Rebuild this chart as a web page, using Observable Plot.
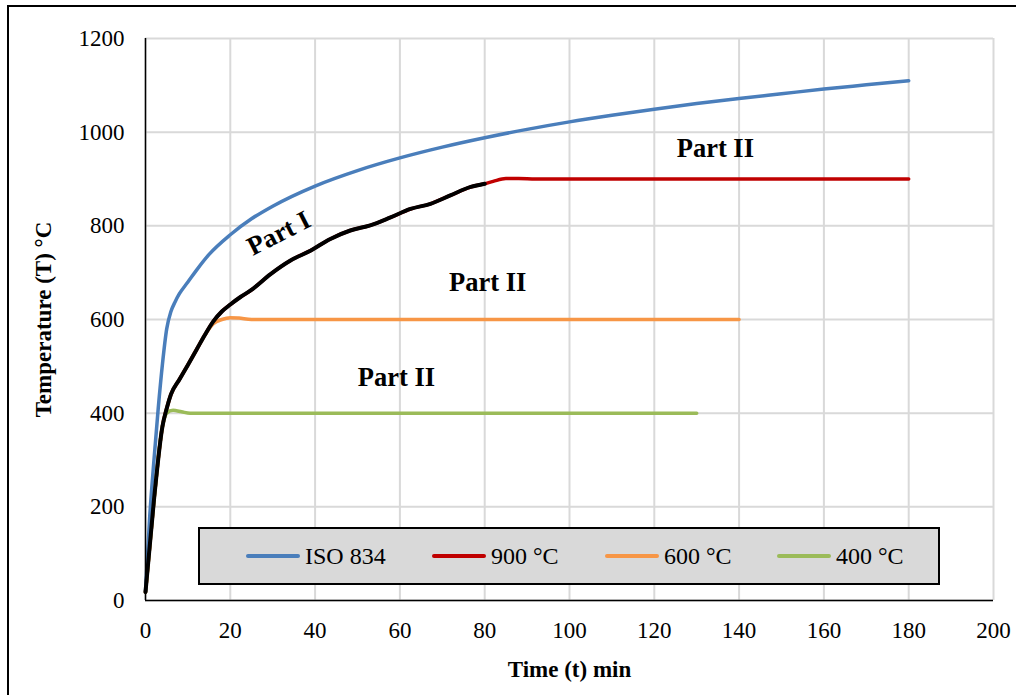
<!DOCTYPE html>
<html>
<head>
<meta charset="utf-8">
<script src="https://cdn.jsdelivr.net/npm/d3@7"></script>
<script src="https://cdn.jsdelivr.net/npm/@observablehq/plot@0.6"></script>
<style>
  html, body { margin: 0; padding: 0; background: #fff; overflow: hidden; width: 1016px; height: 695px; }
  #wrap { position: relative; width: 1016px; height: 695px; font-family: "Liberation Serif", "Times New Roman", serif; }
  #frame { position: absolute; left: 7px; top: 5px; width: 2000px; height: 2000px; border: 2px solid #000; box-sizing: border-box; }
  #chart { position: absolute; left: 0; top: 0; }
  #chart svg text { font-family: "Liberation Serif", "Times New Roman", serif !important; font-variant: normal !important; }
  #legend { position: absolute; left: 198px; top: 527px; width: 742px; height: 58px; box-sizing: border-box;
            border: 2px solid #000; background: #d9d9d9; }
  .li { position: absolute; top: 0; height: 54px; display: flex; align-items: center; font-size: 24px; color: #000;
        font-family: "Liberation Serif", "Times New Roman", serif; white-space: nowrap; }
  .sw { display: inline-block; width: 54px; height: 4px; border-radius: 2px; margin-right: 5px; }
</style>
</head>
<body>
<div id="wrap">
  <div id="frame"></div>
  <div id="chart"></div>
  <div id="legend"></div>
</div>
<script>
// ---- data ----
const xTicks = [0, 20, 40, 60, 80, 100, 120, 140, 160, 180, 200];
const yTicks = [0, 200, 400, 600, 800, 1000, 1200];

// ISO 834 standard fire curve
const isoTime = [0, 1, 2, 3, 4, 5, 6, 7, 8, 10, 12, 15, 20, 25, 30, 40, 50, 60, 70, 80, 90, 100, 110, 120, 130, 140, 150, 160, 170, 180];
const isoTemp = [20, 180, 300, 410, 505, 580, 617, 638, 655, 680, 705, 739, 781, 815, 842, 885, 918, 945, 968, 988, 1006, 1022, 1036, 1049, 1061, 1072, 1082, 1092, 1101, 1110];

// Part I heating curve (black)
const heatTime = [0, 2, 4, 5, 6, 8, 10, 12, 14, 16, 18, 20, 22.4, 24.8, 29.5, 34.2, 38.9, 43.6, 48.3, 53, 57.8, 62.5, 67.2, 71.9, 76.7, 80];
const heatTemp = [18, 215, 372, 410, 440, 472, 503, 535, 567, 596, 617, 632, 648, 662, 697, 726, 747, 772, 790, 801, 818, 836, 847, 865, 883, 890];

// 900 °C series
const t900Time = [0, 2, 4, 5, 6, 8, 10, 12, 14, 16, 18, 20, 22.4, 24.8, 29.5, 34.2, 38.9, 43.6, 48.3, 53, 57.8, 62.5, 67.2, 71.9, 76.7, 80, 82, 85, 88, 92, 180];
const t900Temp = [18, 215, 372, 410, 440, 472, 503, 535, 567, 596, 617, 632, 648, 662, 697, 726, 747, 772, 790, 801, 818, 836, 847, 865, 883, 890, 895, 901, 901, 900, 900];

// 600 °C series
const t600Time = [0, 2, 4, 5, 6, 8, 10, 12, 14, 16, 18, 20, 22, 25, 140];
const t600Temp = [18, 215, 372, 410, 440, 472, 503, 535, 567, 591, 600, 604, 603, 600, 600];

// 400 °C series
const t400Time = [0, 2, 4, 5, 6.5, 8.5, 10.5, 130];
const t400Temp = [18, 215, 372, 400, 406, 403, 400, 400];

const seriesNames = ["ISO 834", "900 °C", "600 °C", "400 °C"];
const seriesColors = ["#4a7ebb", "#c00000", "#f79646", "#9bbb59"];

// annotations
const noteText = ["Part I", "Part II", "Part II", "Part II"];
const noteX = [31.4, 134.4, 80.7, 59.2];
const noteY = [784, 965, 679, 476];
const noteRotate = [-27, 0, 0, 0];

// ---- build tables ----
const toRows = (ts, vs) => ts.map((t, i) => ({t, v: vs[i]}));
const iso = toRows(isoTime, isoTemp);
const heat = toRows(heatTime, heatTemp);
const s900 = toRows(t900Time, t900Temp);
const s600 = toRows(t600Time, t600Temp);
const s400 = toRows(t400Time, t400Temp);
const notes = noteText.map((s, i) => ({s, x: noteX[i], y: noteY[i], r: noteRotate[i]}));

const lineOpts = (color, w) => ({x: "t", y: "v", stroke: color, strokeWidth: w, curve: "monotone-x", strokeLinecap: "round", strokeLinejoin: "round"});
const serif = "Liberation Serif, 'Times New Roman', serif";

const chart = Plot.plot({
  width: 1016,
  height: 695,
  marginLeft: 145,
  marginRight: 23,
  marginTop: 38,
  marginBottom: 95,
  style: {fontFamily: serif, fontSize: "23px", color: "#000", background: "transparent", overflow: "visible"},
  x: {domain: [0, 200]},
  y: {domain: [0, 1200]},
  marks: [
    Plot.gridX(xTicks, {stroke: "#d9d9d9", strokeOpacity: 1, strokeWidth: 2}),
    Plot.gridY(yTicks, {stroke: "#d9d9d9", strokeOpacity: 1, strokeWidth: 2}),
    Plot.line(s900, lineOpts(seriesColors[1], 3.5)),
    Plot.line(s600, lineOpts(seriesColors[2], 3.5)),
    Plot.line(s400, lineOpts(seriesColors[3], 3.5)),
    Plot.line(iso, lineOpts(seriesColors[0], 3.5)),
    Plot.line(heat, lineOpts("#000", 4)),
    Plot.ruleX([0], {stroke: "#000", strokeWidth: 1.5}),
    Plot.ruleY([0], {stroke: "#000", strokeWidth: 1.5}),
    Plot.axisX(xTicks, {tickSize: 0, tickPadding: 21, label: null, fontSize: 23, fontFamily: serif, tickFormat: d => String(d)}),
    Plot.axisY(yTicks, {tickSize: 0, tickPadding: 21, label: null, fontSize: 23, fontFamily: serif, tickFormat: d => String(d)}),
    Plot.text(["Temperature (T) °C"], {frameAnchor: "left", dx: -102, rotate: -90, textAnchor: "middle", lineAnchor: "middle", fontWeight: "bold", fontSize: 23, fontFamily: serif}),
    Plot.text(["Time (t) min"], {frameAnchor: "bottom", dy: 69, textAnchor: "middle", lineAnchor: "middle", fontWeight: "bold", fontSize: 23, fontFamily: serif}),
    Plot.text(notes, {x: "x", y: "y", text: "s", rotate: "r", fontWeight: "bold", fontSize: 26.5, fontFamily: serif})
  ]
});
document.getElementById("chart").appendChild(chart);

// legend
const legendLeft = [46, 232, 405, 577];
const legend = document.getElementById("legend");
seriesNames.forEach((name, i) => {
  const item = document.createElement("div");
  item.className = "li";
  item.style.left = legendLeft[i] + "px";
  const sw = document.createElement("span");
  sw.className = "sw";
  sw.style.background = seriesColors[i];
  item.appendChild(sw);
  item.appendChild(document.createTextNode(name));
  legend.appendChild(item);
});
</script>
</body>
</html>
